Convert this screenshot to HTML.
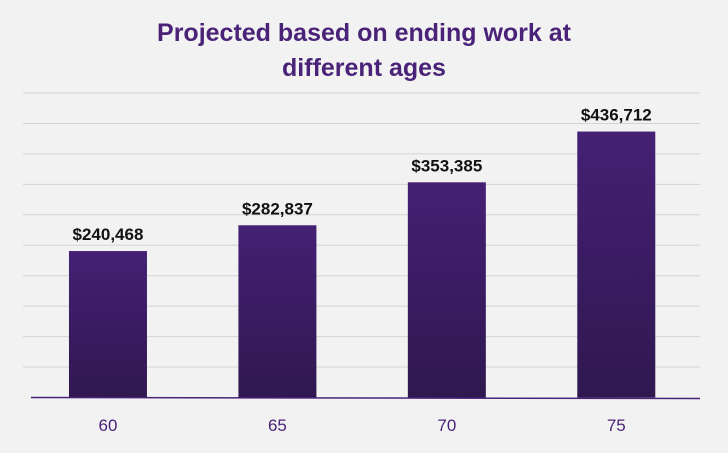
<!DOCTYPE html>
<html><head><meta charset="utf-8"><style>
body{margin:0;background:#f2f2f2;}
svg{display:block;font-family:"Liberation Sans",sans-serif;}
</style></head><body>
<svg width="728" height="453" viewBox="0 0 728 453">
<defs><linearGradient id="g" x1="0" y1="0" x2="0" y2="1"><stop offset="0" stop-color="#452074"/><stop offset="1" stop-color="#2f1850"/></linearGradient></defs>
<rect width="728" height="453" fill="#f2f2f2"/>
<text x="364" y="41" text-anchor="middle" font-size="25" font-weight="bold" fill="#4a2378">Projected based on ending work at</text>
<text x="364" y="76" text-anchor="middle" font-size="25" font-weight="bold" fill="#4a2378">different ages</text>
<g id="grid"></g><g id="bars"></g><g id="labels"></g>
<line x1="31" y1="397.5" x2="700" y2="398.5" stroke="#4a2378" stroke-width="1.5"/>
</svg>
<script>
const categories=["60","65","70","75"];
const values=[240468,282837,353385,436712];
const valueLabels=["$240,468","$282,837","$353,385","$436,712"];
const yMax=500000, yStep=50000;
const y0=397.5, yTop=93, xL=23.25, xR=701;
const y=v=>y0-(v/yMax)*(y0-yTop);
const band=(xR-xL)/categories.length;
const x=i=>xL+band*(i+0.5);
const NS="http://www.w3.org/2000/svg";
const grid=document.getElementById('grid'),bars=document.getElementById('bars'),labels=document.getElementById('labels');
for(let v=yStep;v<=yMax;v+=yStep){
 const l=document.createElementNS(NS,'line');
 l.setAttribute('x1',23);l.setAttribute('x2',700);l.setAttribute('y1',y(v));l.setAttribute('y2',y(v));
 l.setAttribute('stroke','#d4d4d4');l.setAttribute('stroke-width','1');
 
 
 grid.appendChild(l);
}
const bw=78;
values.forEach((v,i)=>{
 const r=document.createElementNS(NS,'rect');
 r.setAttribute('x',x(i)-bw/2);r.setAttribute('y',y(v));r.setAttribute('width',bw);r.setAttribute('height',y0-y(v));
 r.setAttribute('fill','url(#g)');
 
 
 bars.appendChild(r);
 const t=document.createElementNS(NS,'text');
 t.setAttribute('x',x(i));t.setAttribute('y',y(v)-11);t.setAttribute('text-anchor','middle');
 t.setAttribute('font-size','17');t.setAttribute('font-weight','bold');t.setAttribute('fill','#111');
 t.textContent=valueLabels[i];
 
 
 labels.appendChild(t);
 const c=document.createElementNS(NS,'text');
 c.setAttribute('x',x(i));c.setAttribute('y',431);c.setAttribute('text-anchor','middle');
 c.setAttribute('font-size','17');c.setAttribute('fill','#4a2378');
 c.textContent=categories[i];
 
 
 labels.appendChild(c);
});
</script>
</body></html>
